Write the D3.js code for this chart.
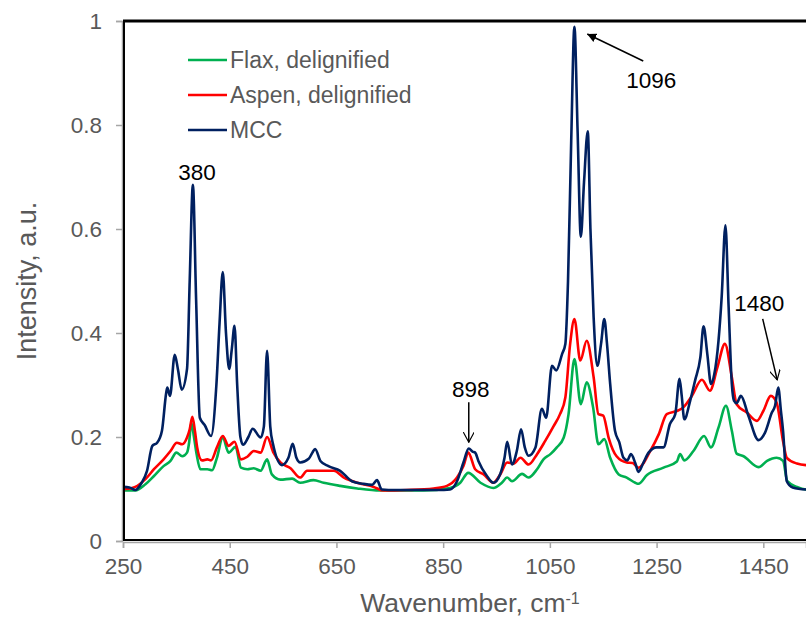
<!DOCTYPE html>
<html>
<head>
<meta charset="utf-8">
<script src="https://cdn.jsdelivr.net/npm/d3@7"></script>
<style>
  body { margin: 0; background: #fff; }
  text { font-family: "Liberation Sans", Arial, sans-serif; }
</style>
</head>
<body>
<div id="chart"></div>
<script>
// series: wavenumber (cm-1) and intensity
const flaxWave = [250, 273, 292, 308, 326, 339, 350, 361, 370, 374, 378, 383, 388, 395, 408, 417, 426, 437, 448, 461, 471, 483, 495, 508, 520, 529, 545, 567, 582, 607, 626, 657, 689, 732, 813, 863, 882, 897, 920, 944, 960, 970, 979, 998, 1010, 1026, 1038, 1051, 1063, 1076, 1085, 1096, 1108, 1119, 1131, 1141, 1152, 1163, 1179, 1194, 1210, 1216, 1232, 1263, 1288, 1294, 1302, 1319, 1339, 1352, 1366, 1380, 1391, 1400, 1413, 1441, 1457, 1475, 1487, 1495, 1513, 1530, 1560];
const flax = [0.097, 0.097, 0.109, 0.125, 0.144, 0.154, 0.17, 0.163, 0.17, 0.19, 0.228, 0.2, 0.167, 0.138, 0.138, 0.136, 0.16, 0.199, 0.17, 0.181, 0.141, 0.138, 0.14, 0.135, 0.157, 0.128, 0.118, 0.12, 0.112, 0.117, 0.112, 0.106, 0.101, 0.097, 0.097, 0.102, 0.112, 0.131, 0.112, 0.102, 0.112, 0.122, 0.115, 0.129, 0.122, 0.138, 0.157, 0.167, 0.18, 0.199, 0.244, 0.35, 0.263, 0.305, 0.257, 0.186, 0.196, 0.16, 0.128, 0.122, 0.112, 0.11, 0.127, 0.141, 0.153, 0.167, 0.155, 0.173, 0.202, 0.18, 0.218, 0.26, 0.212, 0.168, 0.163, 0.142, 0.154, 0.16, 0.154, 0.115, 0.104, 0.099, 0.098];

const aspenWave = [250, 255, 273, 292, 308, 326, 339, 351, 361, 370, 375, 380, 385, 389, 398, 408, 415, 426, 437, 448, 459, 471, 483, 495, 508, 520, 532, 545, 564, 582, 595, 626, 645, 664, 689, 720, 738, 782, 832, 857, 876, 888, 897, 910, 926, 944, 957, 970, 982, 995, 1010, 1026, 1041, 1057, 1069, 1079, 1088, 1096, 1107, 1119, 1132, 1141, 1150, 1160, 1175, 1194, 1205, 1216, 1238, 1254, 1269, 1288, 1300, 1316, 1335, 1350, 1364, 1378, 1391, 1400, 1419, 1438, 1450, 1464, 1475, 1487, 1494, 1513, 1530, 1560];
const aspen = [0.1, 0.1, 0.104, 0.119, 0.138, 0.157, 0.173, 0.189, 0.186, 0.199, 0.215, 0.239, 0.21, 0.18, 0.155, 0.157, 0.155, 0.18, 0.202, 0.183, 0.191, 0.157, 0.162, 0.173, 0.17, 0.2, 0.17, 0.151, 0.14, 0.122, 0.135, 0.135, 0.135, 0.122, 0.112, 0.104, 0.097, 0.098, 0.101, 0.106, 0.122, 0.144, 0.17, 0.138, 0.128, 0.112, 0.128, 0.151, 0.149, 0.16, 0.147, 0.167, 0.192, 0.221, 0.244, 0.276, 0.379, 0.427, 0.347, 0.385, 0.315, 0.244, 0.241, 0.199, 0.163, 0.151, 0.15, 0.141, 0.173, 0.205, 0.244, 0.25, 0.257, 0.279, 0.31, 0.289, 0.334, 0.379, 0.315, 0.263, 0.247, 0.231, 0.25, 0.279, 0.266, 0.192, 0.16, 0.149, 0.146, 0.145];

const mccWave = [250, 262, 273, 285, 295, 305, 314, 323, 331, 333, 338, 347, 353, 360, 370, 375, 381, 387, 394, 403, 415, 425, 431, 437, 443, 449, 454, 459, 464, 470, 475, 485, 493, 508, 514, 520, 526, 531, 548, 560, 568, 575, 582, 598, 605, 610, 620, 635, 657, 679, 700, 717, 726, 735, 760, 800, 840, 863, 876, 888, 898, 905, 910, 916, 932, 944, 957, 965, 970, 979, 988, 996, 1003, 1010, 1023, 1035, 1043, 1054, 1062, 1073, 1079, 1084, 1090, 1096, 1102, 1108, 1114, 1121, 1126, 1132, 1139, 1146, 1152, 1157, 1163, 1172, 1180, 1188, 1195, 1202, 1210, 1216, 1225, 1235, 1250, 1263, 1275, 1285, 1293, 1297, 1302, 1313, 1322, 1332, 1338, 1345, 1352, 1358, 1366, 1372, 1379, 1385, 1391, 1395, 1400, 1408, 1422, 1441, 1453, 1466, 1472, 1478, 1483, 1487, 1494, 1505, 1530, 1560];
const mcc = [0.104, 0.103, 0.098, 0.112, 0.135, 0.183, 0.189, 0.212, 0.285, 0.295, 0.279, 0.358, 0.33, 0.291, 0.331, 0.5, 0.685, 0.465, 0.237, 0.223, 0.202, 0.3, 0.42, 0.517, 0.4, 0.331, 0.37, 0.414, 0.3, 0.2, 0.185, 0.2, 0.216, 0.199, 0.22, 0.366, 0.22, 0.187, 0.146, 0.16, 0.187, 0.16, 0.151, 0.158, 0.17, 0.177, 0.154, 0.144, 0.135, 0.115, 0.11, 0.108, 0.117, 0.099, 0.098, 0.098, 0.098, 0.099, 0.115, 0.151, 0.178, 0.172, 0.17, 0.154, 0.125, 0.112, 0.129, 0.16, 0.191, 0.147, 0.173, 0.215, 0.18, 0.164, 0.18, 0.254, 0.237, 0.337, 0.328, 0.36, 0.379, 0.5, 0.77, 0.989, 0.787, 0.585, 0.69, 0.788, 0.6, 0.43, 0.337, 0.38, 0.427, 0.38, 0.302, 0.212, 0.19, 0.16, 0.155, 0.167, 0.15, 0.133, 0.15, 0.17, 0.18, 0.18, 0.225, 0.244, 0.312, 0.28, 0.234, 0.27, 0.308, 0.353, 0.413, 0.36, 0.302, 0.32, 0.385, 0.47, 0.607, 0.45, 0.302, 0.27, 0.265, 0.279, 0.241, 0.194, 0.208, 0.247, 0.26, 0.295, 0.25, 0.212, 0.115, 0.103, 0.099, 0.098];

const seriesNames = ["Flax, delignified", "Aspen, delignified", "MCC"];
const seriesColors = ["#00B050", "#FF0000", "#002060"];
const xTicks = [250, 450, 650, 850, 1050, 1250, 1450];
const yTicks = [0, 0.2, 0.4, 0.6, 0.8, 1];
const yTickLabels = ["0", "0.2", "0.4", "0.6", "0.8", "1"];

// annotations: tip of the arrow in data units, text / tail offsets in px
const notes = [
    { label: "380", w: 381, v: 0.685, tx: 4, ty: -5, arrow: null },
    { label: "898", w: 898, v: 0.19, tx: 2, ty: -45, arrow: "open", ax: 0, ay: -40 },
    { label: "1096", w: 1120, v: 0.975, tx: 64, ty: 54, arrow: "solid", ax: 56, ay: 27 },
    { label: "1480", w: 1476, v: 0.31, tx: -18, ty: -69, arrow: "open", ax: -14.5, ay: -61 }
];

const width = 806, height = 617;
const plotLeft = 123, plotRight = 806, plotTop = 21, plotBottom = 541;

const svg = d3.select("#chart")
    .append("svg")
    .attr("width", width)
    .attr("height", height);

const x = d3.scaleLinear()
    .domain([250, 1530])
    .range([plotLeft, plotRight]);

const y = d3.scaleLinear()
    .domain([0, 1])
    .range([plotBottom, plotTop]);

svg.append("clipPath")
    .attr("id", "plotclip")
    .append("rect")
    .attr("x", plotLeft)
    .attr("y", plotTop)
    .attr("width", plotRight - plotLeft)
    .attr("height", plotBottom - plotTop);

// gray axes just outside the black frame
const yAxis = svg.append("g")
    .attr("transform", `translate(${plotLeft - 1},0)`)
    .call(d3.axisLeft(y)
        .tickValues(yTicks)
        .tickFormat((d, i) => yTickLabels[i])
        .tickSize(6)
        .tickPadding(14));

const xAxis = svg.append("g")
    .attr("transform", `translate(0,${plotBottom + 1})`)
    .call(d3.axisBottom(x)
        .tickValues(xTicks)
        .tickFormat(d3.format("d"))
        .tickSize(6)
        .tickPadding(10));

[yAxis, xAxis].forEach(g => {
    g.selectAll("path, line").attr("stroke", "#a6a6a6").attr("stroke-width", 1.5);
    g.selectAll("text")
        .attr("fill", "#595959")
        .style("font-size", "22.5px")
        .style("font-family", "'Liberation Sans', Arial, sans-serif");
});

// lines
const line = d3.line()
    .x(d => x(d[0]))
    .y(d => y(d[1]))
    .curve(d3.curveMonotoneX);

const series = [
    d3.zip(flaxWave, flax),
    d3.zip(aspenWave, aspen),
    d3.zip(mccWave, mcc)
];

svg.append("g")
    .attr("clip-path", "url(#plotclip)")
    .selectAll("path")
    .data(series)
    .enter()
    .append("path")
    .attr("d", line)
    .attr("fill", "none")
    .attr("stroke", (d, i) => seriesColors[i])
    .attr("stroke-width", 2.6)
    .attr("stroke-linejoin", "round");

// black frame
svg.append("rect")
    .attr("x", plotLeft + 1)
    .attr("y", plotTop)
    .attr("width", plotRight - plotLeft + 10)
    .attr("height", plotBottom - plotTop - 1)
    .attr("fill", "none")
    .attr("stroke", "#000")
    .attr("stroke-width", 2);

svg.append("line")
    .attr("x1", plotLeft)
    .attr("x2", plotRight)
    .attr("y1", plotTop)
    .attr("y2", plotTop)
    .attr("stroke", "#000")
    .attr("stroke-width", 3);

// legend
const legend = svg.append("g")
    .selectAll("g")
    .data(seriesNames)
    .enter()
    .append("g")
    .attr("transform", (d, i) => `translate(188,${60 + i * 35})`);

legend.append("line")
    .attr("x1", 0)
    .attr("x2", 39)
    .attr("stroke", (d, i) => seriesColors[i])
    .attr("stroke-width", 2.6);

legend.append("text")
    .attr("x", 42)
    .attr("dy", "0.36em")
    .attr("fill", "#595959")
    .style("font-size", "23px")
    .text(d => d);

// annotations
const defs = svg.append("defs");

defs.append("marker")
    .attr("id", "solidhead")
    .attr("viewBox", "0 0 10 10")
    .attr("refX", 10)
    .attr("refY", 5)
    .attr("markerWidth", 6)
    .attr("markerHeight", 6)
    .attr("markerUnits", "strokeWidth")
    .attr("orient", "auto-start-reverse")
    .append("path")
    .attr("d", "M0,0 L10,5 L0,10 Z")
    .attr("fill", "#000");

defs.append("marker")
    .attr("id", "openhead")
    .attr("viewBox", "0 0 12 12")
    .attr("refX", 11)
    .attr("refY", 6)
    .attr("markerWidth", 11)
    .attr("markerHeight", 11)
    .attr("markerUnits", "userSpaceOnUse")
    .attr("orient", "auto-start-reverse")
    .append("path")
    .attr("d", "M0,0 L11,6 L0,12")
    .attr("fill", "none")
    .attr("stroke", "#000")
    .attr("stroke-width", 1.3);

const noteG = svg.append("g");

notes.forEach(n => {
    const px = x(n.w), py = y(n.v);
    if (n.arrow) {
        noteG.append("line")
            .attr("x1", px + n.ax)
            .attr("y1", py + n.ay)
            .attr("x2", px)
            .attr("y2", py)
            .attr("stroke", "#000")
            .attr("stroke-width", 1.5)
            .attr("marker-end", n.arrow === "solid" ? "url(#solidhead)" : "url(#openhead)");
    }
    noteG.append("text")
        .attr("x", px + n.tx)
        .attr("y", py + n.ty)
        .attr("text-anchor", "middle")
        .attr("fill", "#000")
        .style("font-size", "22.5px")
        .text(n.label);
});

// axis titles
svg.append("text")
    .attr("transform", "translate(36,281) rotate(-90)")
    .attr("text-anchor", "middle")
    .attr("fill", "#595959")
    .style("font-size", "27px")
    .text("Intensity, a.u.");

const xTitle = svg.append("text")
    .attr("x", 470)
    .attr("y", 612)
    .attr("text-anchor", "middle")
    .attr("fill", "#595959")
    .style("font-size", "26.5px");

xTitle.append("tspan").text("Wavenumber, cm");
xTitle.append("tspan")
    .attr("dy", "-0.5em")
    .style("font-size", "16px")
    .text("-1");
</script>
</body>
</html>
